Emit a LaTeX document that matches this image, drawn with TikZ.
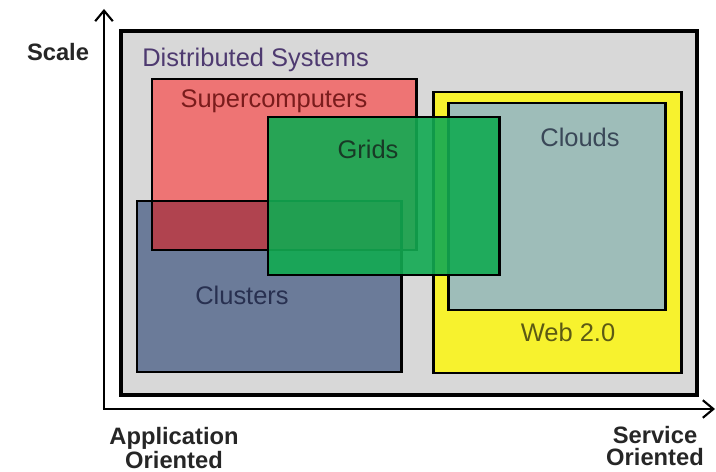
\documentclass[tikz,border=0pt]{standalone}
\usepackage{fontspec}
\setmainfont{Liberation Sans}
\usetikzlibrary{arrows.meta}
\definecolor{dsgray}{HTML}{D8D8D8}
\definecolor{dstext}{HTML}{4E3A70}
\definecolor{scred}{HTML}{EE7474}
\definecolor{sctext}{HTML}{7A1C1C}
\definecolor{clblue}{HTML}{6B7B99}
\definecolor{cltext}{HTML}{283050}
\definecolor{overlap}{HTML}{B0434F}
\definecolor{grgreen}{HTML}{12AA52}
\definecolor{grtext}{HTML}{183A26}
\definecolor{webyellow}{HTML}{F7F22E}
\definecolor{webtext}{HTML}{5C5A14}
\definecolor{cdteal}{HTML}{9EBDB9}
\definecolor{cdtext}{HTML}{3A4858}
\tikzset{
  box/.style={draw=black,line width=1.7pt},
  lbl/.style={font=\fontsize{14.5}{16}\selectfont,inner sep=0pt},
  axlbl/.style={font=\fontsize{13.5}{12.5}\selectfont\bfseries,align=center,inner sep=0pt,text=black!85},
  axis/.style={line width=1.2pt,-{Straight Barb[length=6pt,width=10pt,line width=1.2pt]}}
}
\begin{document}
\begin{tikzpicture}[x=0.02cm,y=-0.02cm]
      \useasboundingbox (0,0) rectangle (716,472);
      \coordinate (origin) at (104,409);
      \coordinate (ytip) at (104,9);
      \coordinate (xtip) at (715,409);
      \draw[axis] (origin) -- (ytip);
      \draw[axis] ([xshift=-0.6pt]origin) -- (xtip);
      \draw[box,line width=2.4pt,fill=dsgray] (121,31) rectangle (697,395);
      \fill[clblue] (137,201) rectangle (401,372);
      \fill[scred] (152,79) rectangle (416,250);
      \fill[overlap] (152,201) rectangle (401,250);
      \draw[box] (137,201) rectangle (401,372);
      \draw[box] (152,79) rectangle (416,250);
      \draw[box,fill=webyellow] (433,92) rectangle (681,373);
      \draw[box,fill=cdteal] (448,103) rectangle (665,310);
      \draw[box,fill=grgreen,fill opacity=0.9] (268,117) rectangle (499,275);
      \node[lbl,text=dstext,anchor=west] (ds) at (142,60) {Distributed Systems};
      \node[lbl,text=sctext] (sc) at (274,101) {Supercomputers};
      \node[lbl,text=grtext] (gr) at (368,149) {Grids};
      \node[lbl,text=cdtext] (cd) at (580,137) {Clouds};
      \node[lbl,text=cltext] (cl) at (242,295) {Clusters};
      \node[lbl,text=webtext] (web) at (568,332) {Web 2.0};
      \node[axlbl] (scale) at (58,52) {Scale};
      \node[axlbl] (app) at (174,448) {Application\\Oriented};
      \node[axlbl] (svc) at (655,446) {Service\\Oriented};
    \end{tikzpicture}
\end{document}
